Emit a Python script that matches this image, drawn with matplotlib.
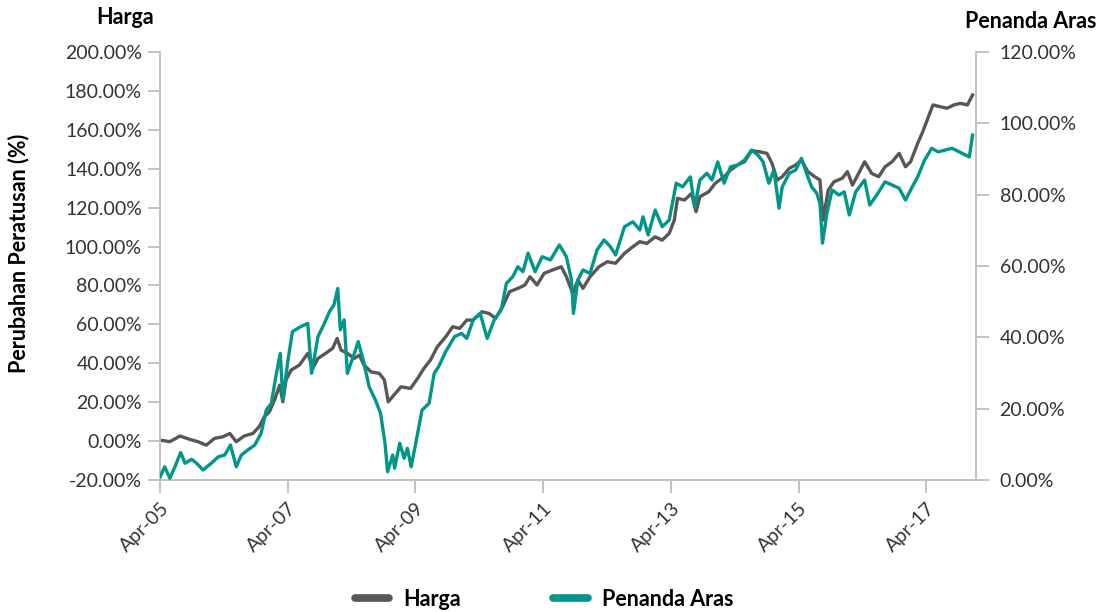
import matplotlib
matplotlib.use("Agg")
import matplotlib.pyplot as plt
import pandas as pd
from matplotlib.ticker import FuncFormatter, FixedLocator

plt.rcParams['font.family'] = ['Lato', 'DejaVu Sans']

# ---- data (decimal years, percent change) ----
harga_t = [2005.25, 2005.40, 2005.56, 2005.71, 2005.84, 2005.97, 2006.10, 2006.23, 2006.34, 2006.44,
           2006.57, 2006.70, 2006.80, 2006.88, 2006.96, 2007.04, 2007.12, 2007.17, 2007.22, 2007.30,
           2007.43, 2007.56, 2007.64, 2007.72, 2007.84, 2007.95, 2008.02, 2008.08, 2008.18, 2008.29,
           2008.37, 2008.44, 2008.55, 2008.68, 2008.76, 2008.82, 2008.91, 2009.02, 2009.17, 2009.28,
           2009.38, 2009.48, 2009.59, 2009.72,
           2009.83, 2009.94, 2010.05, 2010.15, 2010.29, 2010.40, 2010.50, 2010.61, 2010.72, 2010.85,
           2010.96, 2011.04, 2011.15, 2011.26, 2011.39, 2011.53, 2011.61, 2011.71, 2011.79, 2011.87,
           2011.98, 2012.12, 2012.25, 2012.38, 2012.52, 2012.65, 2012.76, 2012.87, 2013.00, 2013.11,
           2013.22, 2013.30, 2013.35, 2013.46, 2013.57, 2013.64, 2013.70, 2013.84, 2013.94, 2014.08,
           2014.18, 2014.29, 2014.40, 2014.51, 2014.64, 2014.75, 2014.83, 2014.91, 2014.99, 2015.10,
           2015.20, 2015.29, 2015.39, 2015.50, 2015.58, 2015.63, 2015.71, 2015.80, 2015.93, 2016.01,
           2016.09, 2016.20, 2016.28, 2016.39, 2016.50, 2016.60, 2016.71, 2016.82, 2016.92, 2017.00,
           2017.11, 2017.19, 2017.27, 2017.35, 2017.46, 2017.57, 2017.68, 2017.78, 2017.89, 2017.97]
harga_v = [0.5, -0.3, 2.6, 0.9, -0.3, -2.1, 1.4, 2.2, 3.9, -0.3,
           2.7, 3.9, 7.4, 12.5, 15.1, 21.1, 28.8, 20.2, 31.4, 36.5,
           39.1, 45.1, 37.4, 42.5, 45.1, 47.7, 52.8, 46.8, 45.1, 42.5,
           44.2, 39.1, 35.6, 34.8, 31.4, 20.2, 23.7, 27.9, 27.1, 32.2,
           37.4, 41.6, 48.5, 53.6,
           58.8, 57.9, 62.2, 62.2, 66.5, 65.6, 63.1, 69.0, 76.8, 78.5,
           80.2, 84.5, 80.2, 86.2, 87.9, 89.6, 84.5, 75.9, 82.8, 78.5,
           84.5, 89.6, 92.2, 91.4, 96.5, 99.9, 102.5, 101.6, 105.0, 103.3,
           106.8, 113.6, 124.8, 123.9, 127.3, 117.9, 125.6, 128.2, 132.5, 135.9,
           139.3, 141.9, 143.6, 149.3, 148.7, 147.9, 142.8, 134.2, 135.9, 140.2,
           141.9, 144.5, 138.5, 135.9, 134.2, 113.6, 129.0, 133.3, 135.1, 138.5,
           131.6, 138.5, 143.6, 137.6, 135.9, 141.0, 143.6, 147.9, 141.0, 143.6,
           153.0, 159.0, 165.9, 172.8, 171.9, 171.1, 172.8, 173.6, 172.8, 177.9]

bench_t = [2005.25, 2005.32, 2005.40, 2005.48, 2005.57, 2005.64, 2005.74, 2005.82, 2005.92, 2006.05,
           2006.16, 2006.26, 2006.35, 2006.44, 2006.52, 2006.62, 2006.73, 2006.83, 2006.91, 2006.99,
           2007.06, 2007.13, 2007.17, 2007.25, 2007.32, 2007.45, 2007.56, 2007.62, 2007.72, 2007.82,
           2007.90, 2007.97, 2008.03, 2008.07, 2008.13, 2008.18, 2008.29, 2008.35, 2008.43, 2008.52,
           2008.62, 2008.70, 2008.77, 2008.81, 2008.89, 2008.92, 2009.00, 2009.07, 2009.12, 2009.18,
           2009.28, 2009.35, 2009.46, 2009.54, 2009.61, 2009.72,
           2009.86, 2009.97, 2010.05, 2010.15, 2010.26, 2010.37, 2010.48, 2010.59, 2010.67, 2010.77,
           2010.85, 2010.93, 2011.01, 2011.12, 2011.23, 2011.36, 2011.50, 2011.61, 2011.69, 2011.72,
           2011.79, 2011.87, 2011.98, 2012.09, 2012.20, 2012.30, 2012.38, 2012.52, 2012.65, 2012.76,
           2012.81, 2012.89, 2013.00, 2013.11, 2013.22, 2013.33, 2013.43, 2013.55, 2013.62, 2013.70,
           2013.81, 2013.89, 2013.98, 2014.08, 2014.18, 2014.29, 2014.40, 2014.51, 2014.61, 2014.69,
           2014.78, 2014.86, 2014.94, 2014.99, 2015.10, 2015.20, 2015.29, 2015.37, 2015.45, 2015.53,
           2015.58, 2015.62, 2015.69, 2015.77, 2015.88, 2015.96, 2016.04, 2016.14, 2016.28, 2016.36,
           2016.47, 2016.60, 2016.71, 2016.82, 2016.92, 2017.00, 2017.11, 2017.22, 2017.33, 2017.43,
           2017.54, 2017.65, 2017.76, 2017.86, 2017.92, 2017.97]
bench_v = [0.9, 3.7, 0.5, 3.7, 7.7, 4.7, 5.8, 4.7, 2.8, 4.7,
           6.5, 7.0, 9.8, 3.7, 7.0, 8.4, 9.8, 13.1, 19.6, 21.5,
           29.0, 35.5, 22.4, 33.6, 41.6, 43.0, 43.9, 29.9, 40.2, 43.9,
           47.2, 49.1, 53.7, 42.1, 44.9, 29.9, 35.5, 38.8, 33.6, 26.2,
           22.4, 18.7, 10.3, 2.3, 7.0, 3.3, 10.3, 6.1, 8.9, 3.7,
           13.1, 19.6, 21.5, 29.9, 31.8, 36.0,
           40.2, 41.1, 39.7, 44.9, 46.7, 39.7, 44.9, 47.7, 55.1, 57.0,
           59.8, 58.4, 63.6, 58.4, 62.6, 61.7, 65.9, 62.6, 56.1, 46.7,
           56.1, 58.9, 57.9, 64.5, 67.3, 65.4, 63.1, 71.0, 72.4, 70.1,
           73.8, 68.7, 75.7, 71.0, 72.9, 83.2, 82.2, 85.0, 76.6, 84.1,
           86.0, 84.1, 89.2, 83.2, 87.8, 88.3, 89.7, 92.5, 91.1, 89.2,
           83.2, 86.9, 76.2, 82.2, 86.0, 86.9, 90.2, 86.0, 82.2, 80.4,
           77.6, 66.4, 74.8, 81.3, 79.9, 80.8, 74.3, 80.8, 84.1, 77.1,
           79.9, 83.6, 82.7, 81.8, 78.5, 81.3, 85.0, 89.7, 93.0, 92.0,
           92.5, 93.0, 92.0, 91.1, 90.6, 96.7]

left_ticks = [-20, 0, 20, 40, 60, 80, 100, 120, 140, 160, 180, 200]
right_ticks = [0, 20, 40, 60, 80, 100, 120]
x_ticks = ['2005-04-01', '2007-04-01', '2009-04-01', '2011-04-01', '2013-04-01', '2015-04-01', '2017-04-01']

series_names = ['Harga', 'Penanda Aras']
left_title = 'Harga'
right_title = 'Penanda Aras'
y_label = 'Perubahan Peratusan (%)'


def to_dt(ts):
    base = pd.Timestamp('2005-01-01')
    return [base + pd.Timedelta(days=(t - 2005) * 365.25) for t in ts]


GRAY = '#575757'
TEAL = '#009688'
SPINE = '#bdbdbd'
TXT = '#333333'

fig = plt.figure(figsize=(11.09, 6.12), dpi=100)
ax = fig.add_axes([160 / 1109, 1 - 480 / 612, (976 - 160) / 1109, (480 - 52) / 612])
ax2 = ax.twinx()

l1, = ax.plot(to_dt(harga_t), harga_v, color=GRAY, lw=2.4, solid_joinstyle='round')
l2, = ax2.plot(to_dt(bench_t), bench_v, color=TEAL, lw=2.4, solid_joinstyle='round')

ax.set_ylim(-20, 200)
ax2.set_ylim(0, 120)
ax.set_xlim(pd.Timestamp('2005-04-01'), pd.Timestamp('2018-01-10'))

ax.yaxis.set_major_locator(FixedLocator(left_ticks))
ax2.yaxis.set_major_locator(FixedLocator(right_ticks))
pct = FuncFormatter(lambda v, p: f'{v:.2f}%')
ax.yaxis.set_major_formatter(pct)
ax2.yaxis.set_major_formatter(pct)

xt = [pd.Timestamp(d) for d in x_ticks]
ax.set_xticks(xt)
ax.set_xticklabels([t.strftime('%b-%y') for t in xt], rotation=45, ha='right', rotation_mode='anchor')

for a in (ax, ax2):
    for s in a.spines.values():
        s.set_color(SPINE)
        s.set_linewidth(1.3)
    a.spines['top'].set_visible(False)
    a.tick_params(colors=SPINE, labelcolor=TXT, labelsize=14, length=9, width=1.3)
ax.spines['right'].set_visible(False)
ax2.spines['left'].set_visible(False)
ax2.spines['bottom'].set_visible(False)
ax.tick_params(axis='y', pad=4)
ax2.tick_params(axis='y', pad=8)
ax.tick_params(axis='x', pad=5)

fig.text(19 / 1109, 1 - 253 / 612, y_label, fontsize=15.5, fontweight='bold', rotation=90,
         ha='center', va='center')
fig.text(125 / 1109, 1 - 17 / 612, left_title, fontsize=15.5, fontweight='bold', ha='center', va='center')
fig.text(1031 / 1109, 1 - 22 / 612, right_title, fontsize=15.5, fontweight='bold', ha='center', va='center')

leg = fig.legend([l1, l2], series_names, loc='center', bbox_to_anchor=(544 / 1109, 1 - 599 / 612), ncol=2,
                 frameon=False, fontsize=15.5, handlelength=1.6, columnspacing=4.3, handletextpad=0.65,
                 borderpad=0)
for t in leg.get_texts():
    t.set_fontweight('bold')
for h in leg.legend_handles:
    h.set_linewidth(5.5)
    h.set_solid_capstyle('round')

fig.savefig('out.png', dpi=100)
